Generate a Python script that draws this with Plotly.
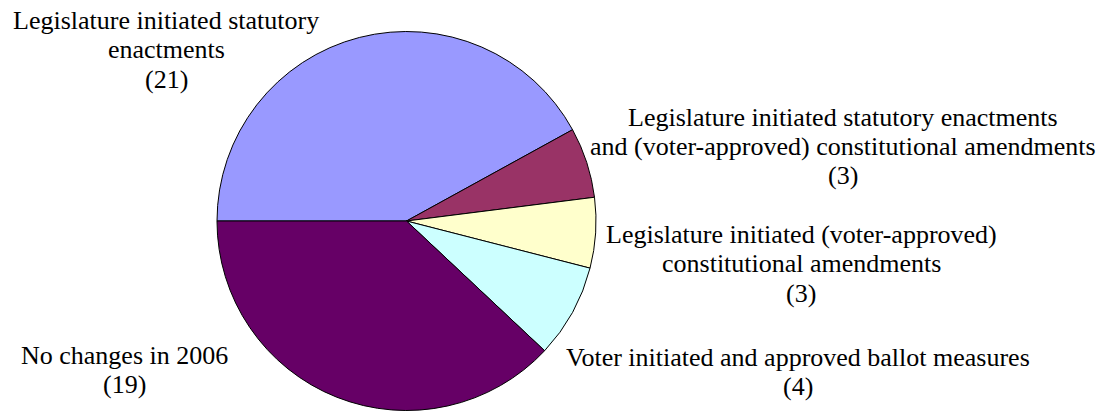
import plotly.graph_objects as go

# Categories of changes (line breaks as drawn), their counts and slice colours
categories = [
    "Legislature initiated statutory\nenactments",
    "Legislature initiated statutory enactments\nand (voter-approved) constitutional amendments",
    "Legislature initiated (voter-approved)\nconstitutional amendments",
    "Voter initiated and approved ballot measures",
    "No changes in 2006",
]
counts = [21, 3, 3, 4, 19]
colors = ["#9999FF", "#993366", "#FFFFCC", "#CCFFFF", "#660066"]

# Centre of each label block: x and y of its first line, in pixels from top-left
label_anchor = [(166, 20), (843, 117), (801, 234), (798, 357), (124, 355)]
LINE_STEP = 29.5

W, H = 1113, 411
SERIF = "'Times New Roman', 'Liberation Serif', serif"

fig = go.Figure(
    go.Pie(
        labels=[c.replace("\n", " ") for c in categories],
        values=counts,
        sort=False,
        direction="clockwise",
        rotation=-90,
        marker=dict(colors=colors, line=dict(color="black", width=1)),
        textinfo="none",
        hoverinfo="label+value",
        domain=dict(x=[217 / W, 596 / W], y=[1 - 410.5 / H, 1 - 31.5 / H]),
        showlegend=False,
    )
)

for cat, val, (px, py) in zip(categories, counts, label_anchor):
    lines = cat.split("\n") + [f"({val})"]
    for i, line in enumerate(lines):
        fig.add_annotation(
            x=px / W,
            y=1 - (py + i * LINE_STEP) / H,
            xref="paper",
            yref="paper",
            xanchor="center",
            yanchor="middle",
            text=line,
            showarrow=False,
            font=dict(family=SERIF, size=26, color="black"),
        )

fig.update_layout(
    width=W,
    height=H,
    margin=dict(l=0, r=0, t=0, b=0),
    paper_bgcolor="white",
    plot_bgcolor="white",
    font=dict(family=SERIF),
)

fig.write_html("out.html")
